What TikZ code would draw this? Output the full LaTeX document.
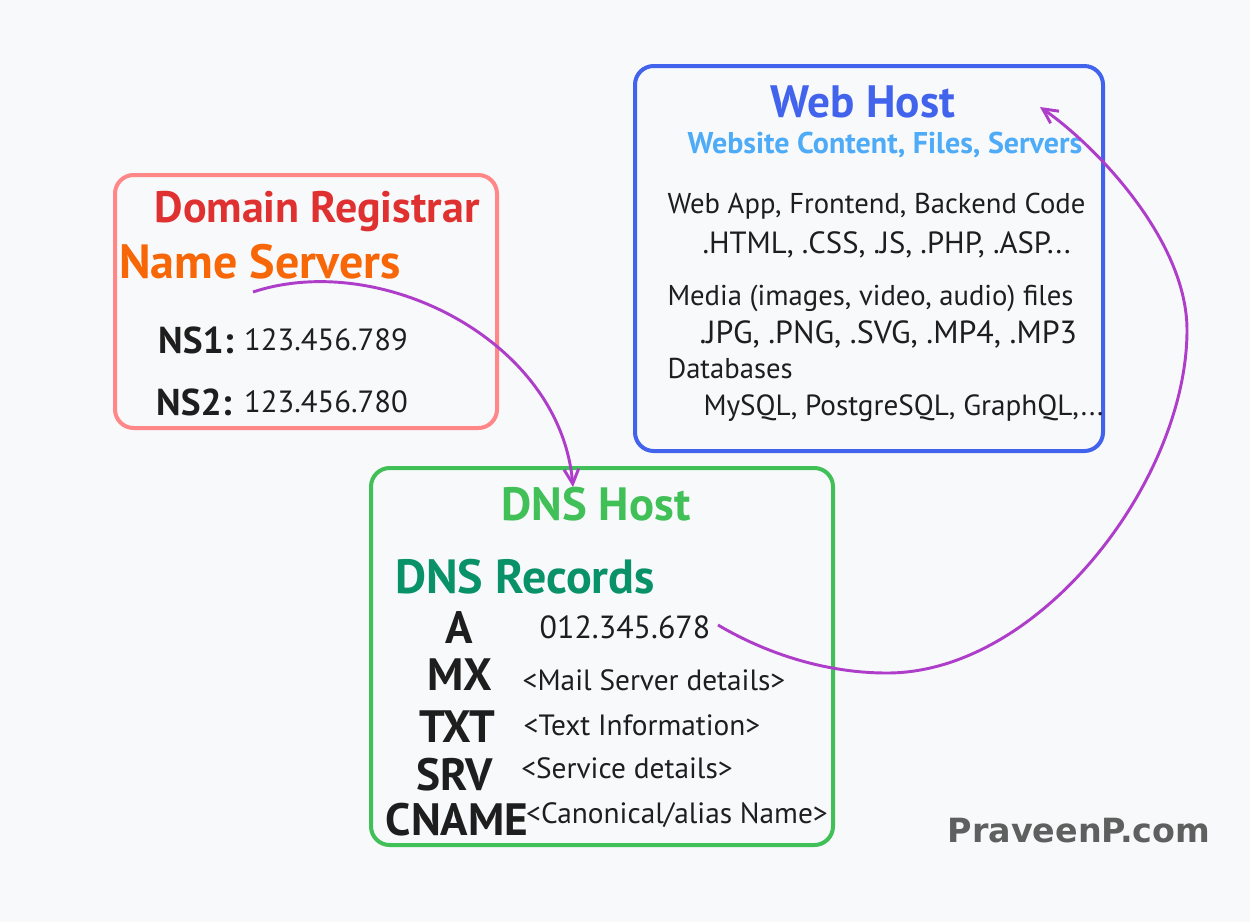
\documentclass[tikz,border=0pt]{standalone}
\usepackage{fontspec}
\setmainfont{PT Sans}
\newfontfamily\markfont{DejaVu Sans}
\usetikzlibrary{arrows.meta}
\definecolor{bgcol}{HTML}{F8F9FB}
\definecolor{inkcol}{HTML}{1E1E1E}
\definecolor{regcol}{HTML}{FF8787}
\definecolor{regtitle}{HTML}{E03131}
\definecolor{nscol}{HTML}{F76707}
\definecolor{webcol}{HTML}{4263EB}
\definecolor{websub}{HTML}{4DABF7}
\definecolor{dnscol}{HTML}{40C057}
\definecolor{reccol}{HTML}{099268}
\definecolor{linkcol}{HTML}{AE3EC9}
\definecolor{markcol}{HTML}{5E605F}
\tikzset{every picture/.style={line width=0.75pt}}

\begin{document}
\begin{tikzpicture}[x=0.75pt,y=0.75pt,yscale=-1,xscale=1,
  box/.style={line width=3pt, rounded corners=14pt},
  title/.style={inner sep=0pt, anchor=base, font=\bfseries\fontsize{33}{36}\selectfont},
  tag/.style={inner sep=0pt, anchor=base, text=inkcol, font=\bfseries\fontsize{34}{38}\selectfont},
  body/.style={inner sep=0pt, anchor=base west, text=inkcol, font=\fontsize{21.5}{24}\selectfont},
  val/.style={inner sep=0pt, anchor=base, text=inkcol, font=\fontsize{22}{26}\selectfont},
  link/.style={draw=linkcol, line width=2.2pt, -{Straight Barb[length=11pt,width=11pt]}}]
%set diagram size 1250 x 922
\fill[bgcol] (0,0) rectangle (1250,922);
\useasboundingbox (0,0) rectangle (1250,922);

%Shape: Rectangles
\draw[box, regcol] (115,175) rectangle (497,428);
\draw[box, webcol] (635,66) rectangle (1103,451);
\draw[box, dnscol] (371,468) rectangle (833,845);

% Domain Registrar
\node[title, text=regtitle] (regname) at (317,222) {Domain Registrar};
\node[title, text=nscol, font=\bfseries\fontsize{36}{40}\selectfont] (nsname) at (260,278) {Name Servers};
\node[tag, font=\bfseries\fontsize{28}{32}\selectfont] (ns1) at (196,353) {NS1:};
\node[val, font=\fontsize{23}{26}\selectfont] (ns1ip) at (326,350) {123.456.789};
\node[tag, font=\bfseries\fontsize{28}{32}\selectfont] (ns2) at (194,415) {NS2:};
\node[val, font=\fontsize{23}{26}\selectfont] (ns2ip) at (326,412) {123.456.780};

% Web Host
\node[title, text=webcol, font=\bfseries\fontsize{34}{38}\selectfont] (webname) at (863,117) {Web Host};
\node[val, text=websub, font=\bfseries\fontsize{22.5}{26}\selectfont] (websubname) at (885,153) {Website Content, Files, Servers};
\node[body] (code) at (667,213) {Web App, Frontend, Backend Code};
\node[body, font=\fontsize{23}{26}\selectfont] (codeext) at (702,253) {.HTML, .CSS, .JS, .PHP, .ASP...};
\node[body] (media) at (667,305) {Media (images, video, audio) files};
\node[body, font=\fontsize{24}{27}\selectfont] (mediaext) at (699,343) {.JPG, .PNG, .SVG, .MP4, .MP3};
\node[body] (db) at (667,378) {Databases};
\node[body, font=\fontsize{21.9}{26}\selectfont] (dbext) at (703,415) {MySQL, PostgreSQL, GraphQL,...};

% DNS Host
\node[title, text=dnscol, font=\bfseries\fontsize{35}{38}\selectfont] (dnsname) at (596,520) {DNS Host};
\node[title, text=reccol, font=\bfseries\fontsize{36}{40}\selectfont] (recname) at (525,593) {DNS Records};
\node[tag] (reca) at (459,643) {A};
\node[val, font=\fontsize{24}{28}\selectfont] (recaip) at (625,638) {012.345.678};
\node[tag] (recmx) at (460,690) {MX};
\node[val] (recmxv) at (654,690) {<Mail Server details>};
\node[tag] (rectxt) at (457,742) {TXT};
\node[val] (rectxtv) at (642,735) {<Text Information>};
\node[tag] (recsrv) at (455,790) {SRV};
\node[val] (recsrvv) at (627,778) {<Service details>};
\node[tag] (reccname) at (457,835) {CNAME};
\node[val] (reccnamev) at (677,823) {<Canonical/alias Name>};

% mark
\node[inner sep=0pt, anchor=base, text=markcol, font=\markfont\bfseries\fontsize{25}{30}\selectfont] (mark) at (1079,842) {PraveenP.com};

%Connectors
\coordinate (nsout) at (253,292);
\coordinate (dnsin) at (573,487);
\coordinate (aout) at (718,625);
\coordinate (webin) at (1040,107);
\draw[link] (nsout) .. controls (380,250) and (560,340) .. (dnsin);
\draw[link] (aout) .. controls (760,650) and (820,673) .. (887,673) .. controls (1040,673) and (1187,480) .. (1187,330) .. controls (1187,240) and (1095,145) .. (webin);

\end{tikzpicture}
\end{document}
